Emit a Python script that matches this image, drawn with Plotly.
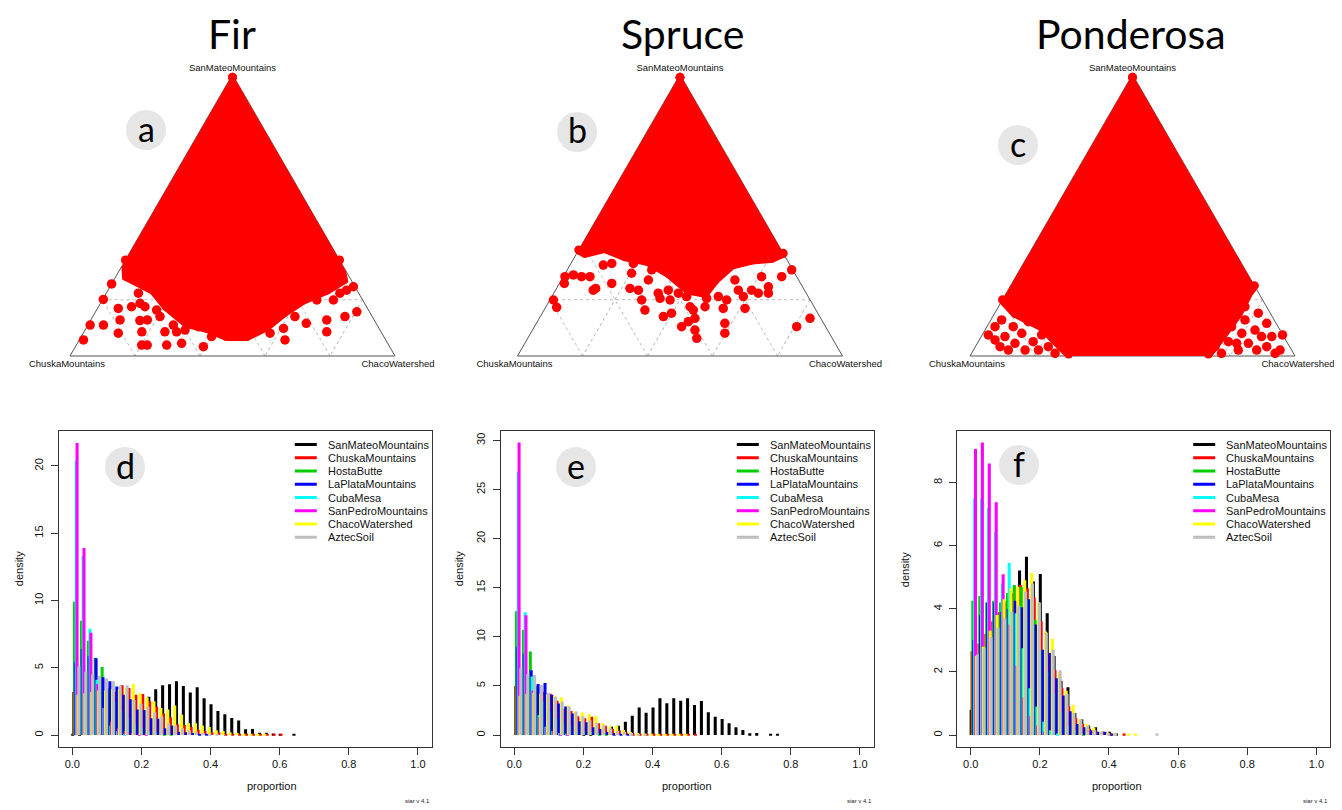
import math
import plotly.graph_objects as go

W, H = 1342, 810          # target window
PAGE_MARGIN = 8           # default body margin of the html page
FW, FH = W - PAGE_MARGIN, H - PAGE_MARGIN
FONT = "Liberation Sans, Arial, sans-serif"
TITLE_FONT = "Lato, Open Sans, sans-serif"

SOURCES = ["SanMateoMountains", "ChuskaMountains", "HostaButte", "LaPlataMountains",
           "CubaMesa", "SanPedroMountains", "ChacoWatershed", "AztecSoil"]
COLORS = ["#000000", "#FF0000", "#00CD00", "#0000FF", "#00FFFF", "#FF00FF", "#FFFF00", "#BEBEBE"]
PANEL_TITLES = ["Fir", "Spruce", "Ponderosa"]
TERN_LETTERS = ["a", "b", "c"]
HIST_LETTERS = ["d", "e", "f"]
TOP_SOURCE, LEFT_SOURCE, RIGHT_SOURCE = "SanMateoMountains", "ChuskaMountains", "ChacoWatershed"
X_TICKS = [0.0, 0.2, 0.4, 0.6, 0.8, 1.0]
BIN = 0.02  # histogram bin width (proportion)

# ---------------- ternary data (a = SanMateo, c = ChacoWatershed, b = 1-a-c) -------------
# dense cloud outline
fir_dense_a = [0.99, 0.341, 0.282, 0.234, 0.175, 0.116, 0.098, 0.069, 0.069, 0.104, 0.152, 0.199, 0.234, 0.270, 0.341]
fir_dense_c = [0.005, 0.0, 0.033, 0.139, 0.210, 0.301, 0.372, 0.448, 0.509, 0.553, 0.580, 0.618, 0.673, 0.706, 0.659]
# scattered draws
fir_out_a = [0.057, 0.110, 0.201, 0.110, 0.256, 0.169, 0.128, 0.081, 0.175, 0.223, 0.187, 0.126, 0.086, 0.039,
             0.039, 0.128, 0.175, 0.163, 0.140, 0.086, 0.039, 0.110, 0.086, 0.045, 0.092, 0.104, 0.033, 0.069,
             0.104, 0.104, 0.075, 0.092, 0.110, 0.081, 0.098, 0.057, 0.140, 0.116, 0.199, 0.128, 0.086, 0.199,
             0.140, 0.234, 0.246, 0.157, 0.223, 0.199]
fir_out_c = [0.013, 0.007, 0.002, 0.048, 0.000, 0.064, 0.090, 0.108, 0.102, 0.099, 0.122, 0.152, 0.178, 0.201,
             0.218, 0.174, 0.143, 0.185, 0.207, 0.249, 0.278, 0.263, 0.285, 0.321, 0.308, 0.343, 0.394, 0.401,
             0.420, 0.451, 0.491, 0.513, 0.530, 0.575, 0.608, 0.633, 0.622, 0.669, 0.660, 0.726, 0.747, 0.711,
             0.776, 0.734, 0.749, 0.804, 0.719, 0.603]

spruce_dense_a = [0.99, 0.377, 0.365, 0.382, 0.353, 0.335, 0.294, 0.234, 0.223, 0.270, 0.323, 0.341, 0.347, 0.365]
spruce_dense_c = [0.005, 0.0, 0.025, 0.078, 0.154, 0.235, 0.317, 0.409, 0.465, 0.473, 0.4975, 0.550, 0.6085, 0.635]
spruce_out_a = [0.199, 0.173, 0.282, 0.258, 0.288, 0.282, 0.282, 0.234, 0.240, 0.323, 0.258, 0.329, 0.294, 0.240,
                0.329, 0.199, 0.163, 0.234, 0.270, 0.306, 0.223, 0.140, 0.205, 0.234, 0.152, 0.199, 0.223, 0.104,
                0.122, 0.175, 0.163, 0.092, 0.063, 0.134, 0.211, 0.264, 0.205, 0.211, 0.169, 0.116, 0.081, 0.199,
                0.270, 0.234, 0.211, 0.169, 0.234, 0.223, 0.282, 0.246, 0.282, 0.306, 0.104, 0.134, 0.223, 0.175]
spruce_out_c = [0.011, 0.034, 0.005, 0.015, 0.028, 0.056, 0.082, 0.116, 0.1205, 0.1025, 0.161, 0.1255, 0.204, 0.226,
                0.192, 0.2825, 0.3105, 0.255, 0.2676, 0.260, 0.3215, 0.379, 0.336, 0.347, 0.398, 0.370, 0.3835, 0.453,
                0.4646, 0.4435, 0.4595, 0.500, 0.520, 0.479, 0.415, 0.455, 0.4795, 0.5125, 0.5485, 0.580, 0.5975, 0.544,
                0.534, 0.5625, 0.5895, 0.6155, 0.6035, 0.6295, 0.610, 0.649, 0.672, 0.6906, 0.807, 0.833, 0.6605, 0.4895]

pond_dense_a = [0.99, 0.20, 0.152, 0.104, 0.033, 0.007, 0.007, 0.0687, 0.152, 0.223, 0.25]
pond_dense_c = [0.005, 0.0, 0.062, 0.1685, 0.265, 0.30, 0.73, 0.740, 0.750, 0.745, 0.75]
pond_out_a = [0.075, 0.104, 0.057, 0.033, 0.069, 0.021, 0.104, 0.045, 0.0805, 0.021, 0.122, 0.051, 0.021, 0.075,
              0.033, 0.104, 0.0095, 0.057, 0.128, 0.152, 0.140,
              0.033, 0.0095, 0.051, 0.104, 0.021, 0.0805, 0.128, 0.045, 0.092, 0.021, 0.069, 0.116, 0.033, 0.069,
              0.0095, 0.021, 0.075, 0.175, 0.152, 0.045, 0.033]
pond_out_c = [0.019, 0.025, 0.0485, 0.076, 0.073, 0.1075, 0.081, 0.116, 0.119, 0.159, 0.1185, 0.169, 0.200, 0.183,
              0.2245, 0.199, 0.257, 0.2435, 0.0334, 0.083, 0.130,
              0.7375, 0.769, 0.7695, 0.753, 0.815, 0.796, 0.782, 0.834, 0.831, 0.8715, 0.8625, 0.855, 0.8965, 0.894,
              0.934, 0.9435, 0.924, 0.7585, 0.811, 0.798, 0.7165]

# ---------------- histogram densities, one value per 0.02 bin starting at 0 ----------------
fir_sanmateo = [0.05, 0.1, 0.2, 0.3, 0.5, 0.7, 1.0, 1.3, 1.7, 2.0, 2.4, 2.85, 3.4, 3.7, 3.77, 4.0, 3.64, 3.15, 3.54,
                2.73, 2.28, 1.78, 1.54, 1.26, 1.07, 0.42, 0.45, 0.17, 0.17, 0.12, 0.1, 0.0, 0.05]
fir_chuska = [3.2, 3.3, 3.3, 3.2, 3.4, 3.3, 3.2, 3.7, 3.5, 3.0, 3.05, 2.5, 2.1, 1.6, 1.3, 0.8, 0.75, 0.6, 0.4, 0.3,
              0.2, 0.2, 0.1, 0.1, 0.05, 0.05, 0.05, 0.1, 0.1, 0.1, 0.05]
fir_hosta = [9.9, 8.5, 7.0, 5.75, 5.05, 3.5, 2.5, 1.8, 1.2, 0.8, 0.5, 0.3, 0.2, 0.1, 0.05]
fir_laplata = [5.4, 6.4, 5.9, 5.7, 4.3, 4.0, 3.6, 3.0, 2.65, 1.9, 1.85, 1.25, 1.2, 0.5, 0.7, 0.25, 0.2, 0.15, 0.1, 0.05]
fir_cuba = [20.4, 13.3, 7.9, 4.1, 2.0, 0.7, 0.3, 0.1]
fir_sanpedro = [21.7, 13.9, 7.6, 3.8, 2.0, 1.0, 0.5, 0.3, 0.15, 0.1, 0.05]
fir_chaco = [3.0, 3.1, 3.2, 3.3, 3.3, 3.4, 3.4, 3.5, 3.8, 3.1, 2.8, 2.5, 2.0, 1.9, 2.2, 1.5, 0.87, 0.87, 0.7, 0.6,
             0.35, 0.3, 0.2, 0.15, 0.1, 0.1, 0.05, 0.05]
fir_aztec = [5.1, 4.7, 4.5, 4.4, 4.2, 4.0, 3.65, 3.7, 2.6, 2.35, 2.1, 1.7, 1.4, 0.87, 0.7, 0.5, 0.35, 0.25, 0.15,
             0.1, 0.05]

spruce_sanmateo = [0, 0, 0, 0, 0, 0, 0, 0, 0, 0, 0.1, 0.2, 0.35, 0.6, 0.85, 0.95, 1.36, 1.97, 2.79, 2.28, 2.79,
                   3.74, 3.23, 3.74, 3.5, 3.74, 3.06, 3.47, 2.31, 1.87, 1.63, 1.19, 0.78, 0.51, 0.17, 0.2, 0,
                   0.07, 0.07]
spruce_chuska = [5.0, 4.8, 4.7, 4.6, 4.4, 4.2, 3.5, 2.65, 2.45, 1.9, 1.7, 1.85, 1.2, 0.95, 0.6, 0.45, 0.25, 0.15,
                 0.1, 0.1, 0.05, 0.05, 0.05, 0.05, 0.05, 0.05, 0.05]
spruce_hosta = [12.6, 10.7, 8.5, 5.0, 3.5, 2.5, 1.8, 1.2, 0.9, 0.6, 0.4, 0.3, 0.2, 0.1]
spruce_laplata = [9.0, 8.3, 6.6, 5.2, 5.3, 4.1, 3.2, 2.9, 2.2, 1.4, 1.3, 0.8, 0.6, 0.3, 0.2, 0.1, 0.05]
spruce_cuba = [26.8, 12.5, 5.95, 2.0, 0.85, 0.4, 0.2, 0.1]
spruce_sanpedro = [29.8, 12.2, 4.5, 1.8, 0.8, 0.4, 0.2, 0.1]
spruce_chaco = [4.0, 4.2, 4.3, 4.2, 4.1, 4.0, 3.84, 3.0, 2.4, 2.3, 2.14, 1.94, 1.2, 0.85, 0.95, 0.5, 0.3, 0.2,
                0.15, 0.1, 0.1, 0.05, 0.05, 0.05, 0.05]
spruce_aztec = [6.8, 6.2, 6.1, 5.1, 4.3, 3.9, 3.4, 2.9, 2.4, 1.9, 1.5, 1.25, 1.0, 0.7, 0.4, 0.3, 0.2, 0.1, 0.05]

pond_sanmateo = [0.8, 2.2, 2.6, 3.0, 3.4, 3.8, 4.2, 5.21, 5.65, 4.86, 5.1, 3.86, 2.5, 1.72, 1.51, 0.7, 0.5, 0.3,
                 0.25, 0.1, 0.1, 0.05]
pond_chuska = [2.65, 2.9, 3.2, 3.6, 3.9, 4.23, 4.5, 4.75, 4.65, 4.36, 3.6, 2.6, 2.06, 1.5, 0.9, 0.53, 0.35, 0.2,
               0.1, 0.07, 0.05, 0, 0.05]
pond_hosta = [4.25, 4.4, 4.2, 4.25, 4.2, 4.5, 4.75, 4.7, 4.3, 3.65, 2.7, 2.0, 1.3, 0.7, 0.3, 0.15, 0.05]
pond_laplata = [3.0, 3.8, 4.2, 4.2, 3.9, 4.0, 4.25, 4.05, 4.3, 3.5, 2.7, 2.6, 1.8, 1.25, 0.75, 0.35, 0.25, 0.15,
                0.1, 0.1, 0.05]
pond_cuba = [7.5, 7.5, 7.2, 6.45, 4.8, 5.45, 3.86, 2.75, 1.48, 0.9, 0.42, 0.15, 0.05]
pond_sanpedro = [9.06, 9.27, 8.6, 7.37, 5.09, 3.5, 2.2, 1.2, 0.6, 0.3, 0.1]
pond_chaco = [2.5, 2.8, 3.3, 3.8, 4.3, 4.65, 4.7, 4.9, 5.13, 4.2, 3.28, 3.05, 2.0, 1.4, 0.95, 0.5, 0.35, 0.24, 0.1,
              0.08, 0.05, 0, 0.05, 0.05]
pond_aztec = [2.55, 2.75, 3.1, 3.4, 3.7, 3.9, 4.1, 4.55, 4.8, 4.2, 3.25, 2.7, 2.05, 1.3, 0.7, 0.5, 0.3, 0.15, 0.1,
              0.05, 0.05, 0, 0, 0, 0, 0, 0.05]

# ---------------- layout geometry (window pixels) ----------------
TRI_X = [(70, 395), (517.5, 842.5), (970, 1295)]
TRI_BASE = 356
HIST_BOX_X = [(58.5, 431.8), (500.5, 873.8), (956.9, 1330.2)]
HIST_BOX_Y = (430.7, 746.7)
Y_RANGES = [(-0.87, 22.62), (-1.19, 30.99), (-0.37, 9.64)]
Y_DTICK = [5, 5, 2]
TITLE_X = [232, 682, 1131]
TERN_CIRCLES = [(146, 130), (577, 132), (1018, 145)]
HIST_CIRCLES = [(125, 467), (576, 467), (1019, 465)]
DENSITY_X = [11, 459, 913]


def px(x):
    return (x - PAGE_MARGIN) / FW


def py(y):
    return 1 - (y - PAGE_MARGIN) / FH


fig = go.Figure()

tern_sets = [
    (fir_dense_a, fir_dense_c, fir_out_a, fir_out_c),
    (spruce_dense_a, spruce_dense_c, spruce_out_a, spruce_out_c),
    (pond_dense_a, pond_dense_c, pond_out_a, pond_out_c),
]
for t, (da, dc, oa, oc) in enumerate(tern_sets):
    sub = "ternary" if t == 0 else f"ternary{t + 1}"
    a2 = da + [da[0]]
    c2 = dc + [dc[0]]
    b2 = [max(0.0, 1 - a - c) for a, c in zip(a2, c2)]
    fig.add_trace(go.Scatterternary(
        a=a2, b=b2, c=c2, mode="lines+markers", fill="toself", fillcolor="#FF0000",
        line=dict(color="#FF0000", width=9), marker=dict(size=9, color="#FF0000"),
        cliponaxis=False, subplot=sub, showlegend=False, hoverinfo="skip"))
    ob = [max(0.0, 1 - a - c) for a, c in zip(oa, oc)]
    fig.add_trace(go.Scatterternary(
        a=oa, b=ob, c=oc, mode="markers",
        marker=dict(size=9.5, color="#FF0000", line=dict(width=0)),
        cliponaxis=False, subplot=sub, showlegend=False))

hist_sets = [
    [fir_sanmateo, fir_chuska, fir_hosta, fir_laplata, fir_cuba, fir_sanpedro, fir_chaco, fir_aztec],
    [spruce_sanmateo, spruce_chuska, spruce_hosta, spruce_laplata, spruce_cuba, spruce_sanpedro, spruce_chaco,
     spruce_aztec],
    [pond_sanmateo, pond_chuska, pond_hosta, pond_laplata, pond_cuba, pond_sanpedro, pond_chaco, pond_aztec],
]
for p, series in enumerate(hist_sets):
    xa = "x" if p == 0 else f"x{p + 1}"
    ya = "y" if p == 0 else f"y{p + 1}"
    for i, vals in enumerate(series):
        xs = [k * BIN + (i + 0.5) * BIN / 8 for k in range(len(vals))]
        fig.add_trace(go.Bar(
            x=xs, y=vals, width=0.0088, name=SOURCES[i],
            marker=dict(color=COLORS[i], line=dict(width=0)),
            xaxis=xa, yaxis=ya, showlegend=False))


def tern_axis(title):
    return dict(
        title=dict(text=title, font=dict(size=9.5, color="#111111", family=FONT)),
        showticklabels=False, ticks="", showgrid=True, gridcolor="#BBBBBB", griddash="dot",
        gridwidth=1, showline=True, linecolor="#555555", linewidth=1, dtick=0.2, tick0=0,
        layer="below traces", min=0)


layout = dict(
    width=FW, height=FH, margin=dict(l=0, r=0, t=0, b=0),
    paper_bgcolor="white", plot_bgcolor="white",
    font=dict(family=FONT, color="#111111"),
    barmode="overlay", showlegend=False,
)

for t in range(3):
    key = "ternary" if t == 0 else f"ternary{t + 1}"
    x0, x1 = TRI_X[t]
    h = (x1 - x0) * math.sqrt(3) / 2
    layout[key] = dict(
        domain=dict(x=[px(x0), px(x1)], y=[py(TRI_BASE), py(TRI_BASE - h)]),
        bgcolor="white", sum=1,
        aaxis=tern_axis(TOP_SOURCE), baxis=tern_axis(LEFT_SOURCE), caxis=tern_axis(RIGHT_SOURCE))

for p in range(3):
    xk = "xaxis" if p == 0 else f"xaxis{p + 1}"
    yk = "yaxis" if p == 0 else f"yaxis{p + 1}"
    ya = "y" if p == 0 else f"y{p + 1}"
    xa = "x" if p == 0 else f"x{p + 1}"
    bx0, bx1 = HIST_BOX_X[p]
    common = dict(showline=True, mirror=True, linecolor="#333333", linewidth=1, showgrid=False,
                  zeroline=False, ticks="outside", ticklen=7, tickcolor="#333333",
                  tickfont=dict(size=11, family=FONT, color="#111111"))
    layout[xk] = dict(domain=[px(bx0), px(bx1)], range=[-0.04, 1.04], anchor=ya,
                      tickvals=X_TICKS, tickformat=".1f", **common)
    layout[yk] = dict(domain=[py(HIST_BOX_Y[1]), py(HIST_BOX_Y[0])], range=list(Y_RANGES[p]), anchor=xa,
                      dtick=Y_DTICK[p], tick0=0, tickangle=-90, ticklabelstandoff=3, **common)

shapes = []
annotations = []

for t in range(3):
    annotations.append(dict(text=PANEL_TITLES[t], x=px(TITLE_X[t]), y=py(PAGE_MARGIN), xref="paper", yref="paper",
                            showarrow=False, xanchor="center", yanchor="top", borderpad=0,
                            font=dict(size=41, family=TITLE_FONT, color="#000000")))

for (cx, cy), letter in list(zip(TERN_CIRCLES, TERN_LETTERS)) + list(zip(HIST_CIRCLES, HIST_LETTERS)):
    shapes.append(dict(type="circle", xref="paper", yref="paper", x0=px(cx - 20), x1=px(cx + 20),
                       y0=py(cy + 20), y1=py(cy - 20), fillcolor="#E6E6E6", line=dict(width=0)))
    annotations.append(dict(text=letter, x=px(cx), y=py(cy - 2), xref="paper", yref="paper", showarrow=False,
                            xanchor="center", yanchor="middle",
                            font=dict(size=34, family=TITLE_FONT, color="#000000")))

for p in range(3):
    bx0, bx1 = HIST_BOX_X[p]
    cx = (bx0 + bx1) / 2
    cy = (HIST_BOX_Y[0] + HIST_BOX_Y[1]) / 2
    annotations.append(dict(text="proportion", x=px(cx), y=py(794), xref="paper", yref="paper",
                            showarrow=False, font=dict(size=11, family=FONT, color="#111111")))
    annotations.append(dict(text="density", x=px(DENSITY_X[p]), y=py(cy), xref="paper", yref="paper",
                            showarrow=False, textangle=-90, font=dict(size=11, family=FONT, color="#111111")))
    annotations.append(dict(text="siar v 4.1", x=px(bx1), y=py(806), xref="paper", yref="paper",
                            xanchor="right", showarrow=False, font=dict(size=6, family=FONT, color="#222222")))
    for j, (name, col) in enumerate(zip(SOURCES, COLORS)):
        ly = 444.5 + 13.25 * j
        shapes.append(dict(type="line", xref="paper", yref="paper", x0=px(bx1 - 137), x1=px(bx1 - 115),
                           y0=py(ly), y1=py(ly), line=dict(color=col, width=3)))
        annotations.append(dict(text=name, x=px(bx1 - 106), y=py(ly), xref="paper", yref="paper",
                                xanchor="left", yanchor="middle", showarrow=False,
                                font=dict(size=11, family=FONT, color="#111111")))

layout["shapes"] = shapes
layout["annotations"] = annotations
fig.update_layout(**layout)

fig.write_html("out.html")
